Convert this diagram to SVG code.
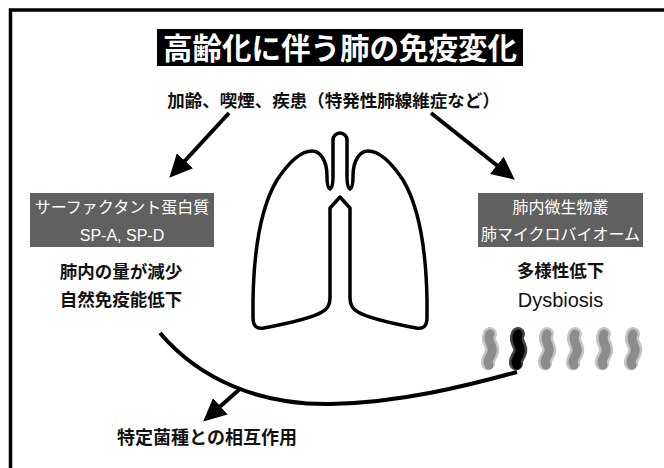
<svg xmlns="http://www.w3.org/2000/svg" width="664" height="468" viewBox="0 0 664 468">
  <style>
    .jp { font-family: "Noto Sans CJK JP", "Noto Sans CJK SC", sans-serif; }
    .lat { font-family: "Liberation Sans", "Noto Sans CJK JP", sans-serif; }
    .dark { fill: #111; font-weight: 700; }
    .plain { fill: #111; font-weight: 400; }
    .boxtxt { fill: #fff; font-size: 16px; }
    .panel { fill: #606060; }
    .conn { fill: none; stroke: #000; stroke-width: 4; }
    .rod { fill: none; stroke-width: 9; stroke-linecap: round; }
    .cilia { fill: none; stroke-width: 14; stroke-linecap: round; stroke-dasharray: 1 2; }
  </style>
  <defs>
    <marker id="head" markerUnits="userSpaceOnUse" markerWidth="24" markerHeight="22" viewBox="0 0 24 22" refX="12" refY="11" orient="auto">
      <path d="M0,0 L23,11 L0,22 Z" fill="#000"/>
    </marker>
    <!-- one S-shaped rod bacterium, drawn around its own centre -->
    <path id="rodShape" d="M0,-15 C-4,-8 4,-3 2,3 C0,9 -4,12 -1,16"/>
  </defs>

  <rect width="664" height="468" fill="#fff"/>
  <path d="M10.5,468 V10 H664" fill="none" stroke="#000" stroke-width="3.5"/>

  <g id="title">
    <rect x="157" y="29" width="366" height="37" fill="#000"/>
    <text x="340" y="58.5" text-anchor="middle" class="jp" font-size="29.5" font-weight="700" fill="#fff">高齢化に伴う肺の免疫変化</text>
  </g>

  <g id="causes">
    <text x="333.5" y="106.5" text-anchor="middle" class="jp dark" font-size="17.5">加齢、喫煙、疾患（特発性肺線維症など）</text>
  </g>

  <g id="lung">
    <path d="M333,140 A7,7 0 0 1 347,140 L347,176 Q347,188 350,189 Q353,188 353,176
             C353,160 360,151 368,151 C380,151 393,165 403,180 C418,205 426,245 427,300 L427,318
             Q427,330 416,328 C395,324 368,318 358,312 Q350,308 350,298 L350,208 L340,197 L330,208
             L330,298 Q330,308 322,312 C312,318 285,324 264,328 Q253,330 253,318 L253,300
             C254,245 262,205 277,180 C287,165 300,151 312,151 C320,151 327,160 327,176
             Q327,188 330,189 Q333,188 333,176 Z"
          fill="#fff" stroke="#000" stroke-width="3.5" stroke-linejoin="round"/>
  </g>

  <g id="surfactant">
    <rect x="30" y="193" width="184" height="54" class="panel"/>
    <text x="122" y="213" text-anchor="middle" class="jp boxtxt">サーファクタント蛋白質</text>
    <text x="122" y="241" text-anchor="middle" class="lat boxtxt" font-size="18">SP-A, SP-D</text>
    <text x="121" y="277.5" text-anchor="middle" class="jp dark" font-size="17.5">肺内の量が減少</text>
    <text x="121" y="306" text-anchor="middle" class="jp dark" font-size="17.5">自然免疫能低下</text>
  </g>

  <g id="microbiome">
    <rect x="478" y="193" width="165" height="54" class="panel"/>
    <text x="560.5" y="213" text-anchor="middle" class="jp boxtxt">肺内微生物叢</text>
    <text x="560.5" y="240" text-anchor="middle" class="jp boxtxt">肺マイクロバイオーム</text>
    <text x="560.5" y="277" text-anchor="middle" class="jp dark" font-size="17.5">多様性低下</text>
    <text x="560.5" y="307" text-anchor="middle" class="lat plain" font-size="20">Dysbiosis</text>
  </g>

  <g id="bacteria">
    <g transform="translate(490,349)"><use href="#rodShape" class="cilia" stroke="#c4c4c4"/><use href="#rodShape" class="rod" stroke="#8c8c8c"/></g>
    <g transform="translate(518,349)"><use href="#rodShape" class="cilia" stroke="#444"/><use href="#rodShape" class="rod" stroke="#000"/></g>
    <g transform="translate(547,349)"><use href="#rodShape" class="cilia" stroke="#c4c4c4"/><use href="#rodShape" class="rod" stroke="#8c8c8c"/></g>
    <g transform="translate(575,349)"><use href="#rodShape" class="cilia" stroke="#c4c4c4"/><use href="#rodShape" class="rod" stroke="#8c8c8c"/></g>
    <g transform="translate(604,349)"><use href="#rodShape" class="cilia" stroke="#c4c4c4"/><use href="#rodShape" class="rod" stroke="#8c8c8c"/></g>
    <g transform="translate(633,349)"><use href="#rodShape" class="cilia" stroke="#c4c4c4"/><use href="#rodShape" class="rod" stroke="#8c8c8c"/></g>
  </g>

  <g id="interaction">
    <text x="207" y="444" text-anchor="middle" class="jp dark" font-size="18">特定菌種との相互作用</text>
  </g>

  <g id="connectors">
    <line x1="229" y1="113" x2="176.8" y2="169.6" class="conn" marker-end="url(#head)"/>
    <line x1="431" y1="113" x2="506.2" y2="172.8" class="conn" marker-end="url(#head)"/>
    <path d="M160,333 C200,380 260,405 330,404 C400,403 470,385 517,372" class="conn"/>
    <line x1="241" y1="388" x2="211.4" y2="414.3" class="conn" marker-end="url(#head)"/>
  </g>
</svg>
